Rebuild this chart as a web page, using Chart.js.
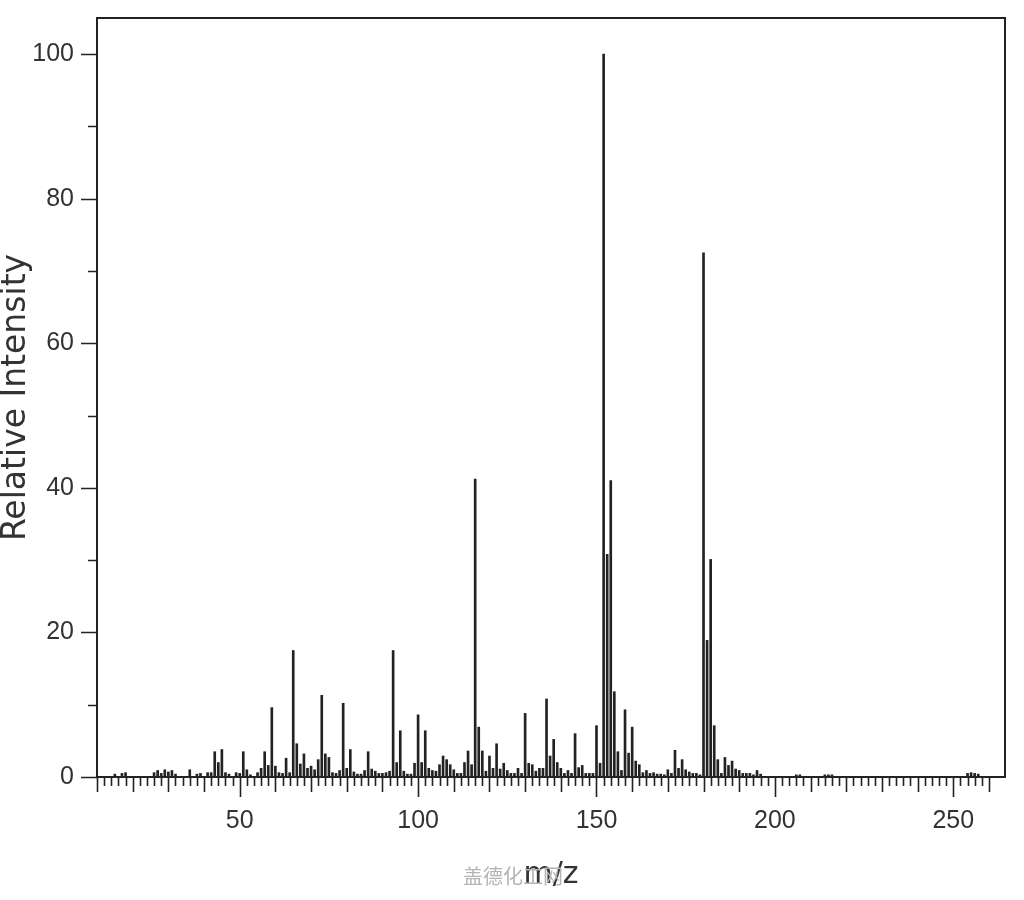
<!DOCTYPE html>
<html>
<head>
<meta charset="utf-8">
<title>Mass spectrum</title>
<script src="https://cdn.jsdelivr.net/npm/chart.js@4/dist/chart.umd.min.js"></script>
<style>
    body { margin: 0; background: #fff; }
    #wrap { position: relative; width: 1024px; height: 900px; }
    #watermark {
        position: absolute; left: 463px; top: 861px;
        font: 20px "Noto Sans CJK SC", sans-serif; color: #b4b4b4;
        pointer-events: none;
    }
</style>
</head>
<body>
<div id="wrap">
    <canvas id="msChart"></canvas>
    <div id="watermark">盖德化工网</div>
</div>
<script>
// m/z 与相对强度
const mzValues = [
    15, 17, 18, 26, 27, 28, 29, 30, 31, 32, 36, 38, 39, 41, 42,
    43, 44, 45, 46, 47, 49, 50, 51, 52, 53, 55, 56, 57, 58, 59,
    60, 61, 62, 63, 64, 65, 66, 67, 68, 69, 70, 71, 72, 73, 74,
    75, 76, 77, 78, 79, 80, 81, 82, 83, 84, 85, 86, 87, 88, 89,
    90, 91, 92, 93, 94, 95, 96, 97, 98, 99, 100, 101, 102, 103, 104,
    105, 106, 107, 108, 109, 110, 111, 112, 113, 114, 115, 116, 117, 118, 119,
    120, 121, 122, 123, 124, 125, 126, 127, 128, 129, 130, 131, 132, 133, 134,
    135, 136, 137, 138, 139, 140, 141, 142, 143, 144, 145, 146, 147, 148, 149,
    150, 151, 152, 153, 154, 155, 156, 157, 158, 159, 160, 161, 162, 163, 164,
    165, 166, 167, 168, 169, 170, 171, 172, 173, 174, 175, 176, 177, 178, 179,
    180, 181, 182, 183, 184, 185, 186, 187, 188, 189, 190, 191, 192, 193, 194,
    195, 196, 206, 207, 214, 215, 216, 254, 255, 256, 257
];
const intensities = [
    0.4, 0.5, 0.6, 0.6, 0.9, 0.5, 1.0, 0.7, 0.9, 0.4, 1.0, 0.4, 0.5, 0.6, 0.6,
    3.5, 2.0, 3.8, 0.6, 0.4, 0.6, 0.5, 3.5, 1.0, 0.3, 0.6, 1.2, 3.5, 1.6, 9.6,
    1.5, 0.6, 0.5, 2.6, 0.6, 17.5, 4.6, 1.8, 3.2, 1.2, 1.5, 1.0, 2.4, 11.3, 3.2,
    2.7, 0.6, 0.5, 0.9, 10.2, 1.2, 3.8, 0.7, 0.4, 0.4, 0.9, 3.5, 1.1, 0.8, 0.5,
    0.5, 0.6, 0.8, 17.5, 2.0, 6.4, 0.8, 0.4, 0.4, 1.9, 8.6, 2.0, 6.4, 1.2, 0.9,
    0.8, 1.7, 2.9, 2.4, 1.7, 1.0, 0.5, 0.5, 2.0, 3.6, 1.7, 41.2, 6.9, 3.6, 0.8,
    2.9, 1.2, 4.6, 1.1, 1.9, 0.9, 0.5, 0.5, 1.2, 0.5, 8.8, 1.9, 1.7, 0.8, 1.2,
    1.2, 10.8, 2.9, 5.2, 2.0, 1.2, 0.5, 0.9, 0.5, 6.0, 1.3, 1.6, 0.5, 0.5, 0.5,
    7.1, 1.9, 100, 30.8, 41.0, 11.8, 3.5, 0.9, 9.3, 3.3, 6.9, 2.2, 1.7, 0.6, 0.9,
    0.5, 0.6, 0.4, 0.4, 0.3, 1.0, 0.5, 3.7, 1.2, 2.4, 1.0, 0.7, 0.5, 0.5, 0.3,
    72.5, 18.9, 30.1, 7.1, 2.4, 0.5, 2.7, 1.6, 2.2, 1.1, 0.9, 0.5, 0.5, 0.5, 0.3,
    0.9, 0.4, 0.3, 0.3, 0.3, 0.3, 0.3, 0.5, 0.6, 0.5, 0.4
];
const xLabelValues = [50, 100, 150, 200, 250];
const yLabelValues = [0, 20, 40, 60, 80, 100];

const X_MIN = 10, X_MAX = 264.5, Y_MIN = 0, Y_MAX = 105;
const INK = '#222';

// 外框和刻度线
const frameTicks = {
    id: 'frameTicks',
    afterDraw(chart) {
        const ctx = chart.ctx;
        const area = chart.chartArea;
        const xs = chart.scales.x, ys = chart.scales.y;
        ctx.save();
        ctx.strokeStyle = INK;
        ctx.lineWidth = 2;
        ctx.strokeRect(area.left, area.top, area.right - area.left, area.bottom - area.top);

        ctx.lineWidth = 1.6;
        ctx.beginPath();
        for (let v = 10; v <= 260; v += 2) {
            const px = Math.round(xs.getPixelForValue(v)) + 0.5;
            const len = v % 50 === 0 ? 20 : (v % 10 === 0 ? 15 : 9);
            ctx.moveTo(px, area.bottom);
            ctx.lineTo(px, area.bottom + len);
        }
        for (let v = 0; v <= 100; v += 10) {
            const py = Math.round(ys.getPixelForValue(v)) + 0.5;
            const len = v % 20 === 0 ? 16 : 9;
            ctx.moveTo(area.left, py);
            ctx.lineTo(area.left - len, py);
        }
        ctx.stroke();
        ctx.restore();
    }
};

const ctx = document.getElementById('msChart').getContext('2d');
const msChart = new Chart(ctx, {
    type: 'bar',
    data: {
        datasets: [{
            data: mzValues.map((mz, i) => ({ x: mz, y: intensities[i] })),
            backgroundColor: INK,
            borderWidth: 0,
            barThickness: 2,
            grouped: false
        }]
    },
    options: {
        responsive: true,
        maintainAspectRatio: false,
        animation: false,
        layout: { padding: { top: 18, right: 19, bottom: 0, left: 0 } },
        plugins: {
            legend: { display: false },
            tooltip: { enabled: false }
        },
        scales: {
            x: {
                type: 'linear',
                min: X_MIN,
                max: X_MAX,
                offset: false,
                grid: { display: false, drawTicks: false },
                border: { display: false },
                afterBuildTicks(axis) {
                    axis.ticks = xLabelValues.map(v => ({ value: v }));
                },
                afterFit(axis) {
                    axis.height = 123;
                    axis.paddingLeft = 0;
                    axis.paddingRight = 0;
                },
                ticks: {
                    autoSkip: false,
                    maxRotation: 0,
                    padding: 29,
                    color: '#333',
                    font: { family: "'Liberation Sans Narrow', 'Liberation Sans', Arial", size: 25 }
                },
                title: {
                    display: true,
                    text: 'm/z',
                    color: '#333',
                    padding: { top: 0, bottom: 7 },
                    font: { family: "'DejaVu Sans', Verdana", size: 30, lineHeight: 1.2 }
                }
            },
            y: {
                min: Y_MIN,
                max: Y_MAX,
                grid: { display: false, drawTicks: false },
                border: { display: false },
                afterBuildTicks(axis) {
                    axis.ticks = yLabelValues.map(v => ({ value: v }));
                },
                afterFit(axis) {
                    axis.width = 97;
                    axis.paddingTop = 0;
                    axis.paddingBottom = 0;
                },
                ticks: {
                    padding: 23,
                    color: '#333',
                    font: { family: "'Liberation Sans Narrow', 'Liberation Sans', Arial", size: 25 }
                },
                title: {
                    display: true,
                    text: 'Relative Intensity',
                    color: '#333',
                    padding: { top: 0, bottom: 0 },
                    font: { family: "'DejaVu Sans', Verdana", size: 33, lineHeight: 1.0 }
                }
            }
        }
    },
    plugins: [frameTicks]
});
</script>
</body>
</html>
